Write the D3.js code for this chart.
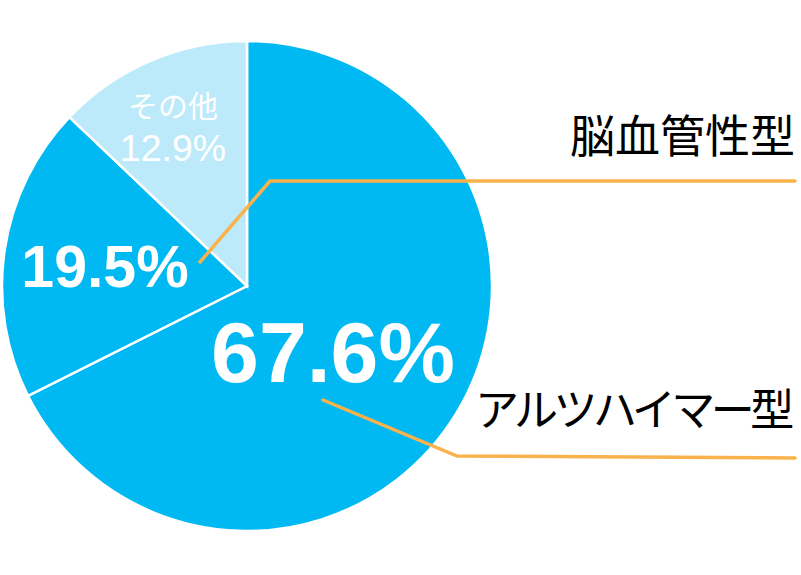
<!DOCTYPE html>
<html>
<head>
<meta charset="utf-8">
<title>pie</title>
<style>
body{margin:0;background:#fff;}
svg{display:block;}
</style>
</head>
<body>
<svg id="chart" width="801" height="575"></svg>
<script src="https://cdn.jsdelivr.net/npm/d3@7"></script>
<script>
// 認知症の内訳
var categories = ["アルツハイマー型", "脳血管性型", "その他"];
var values = [67.6, 19.5, 12.9];
var colors = ["#00b9f2", "#00b9f2", "#bdeafb"];

var svg = d3.select("#chart");
var cx = 247, cy = 286, r = 245;

var pie = d3.pie().sort(null).value(function(d){return d;});
var arc = d3.arc().innerRadius(0).outerRadius(r);
var arcs = pie(values);

var g = svg.append("g").attr("transform", "translate(" + cx + "," + cy + ")");
g.selectAll("path").data(arcs).enter().append("path")
  .attr("d", arc)
  .attr("fill", function(d, i){return colors[i];})
  .attr("stroke", "#fff")
  .attr("stroke-width", 2.5);

// leader lines
var lines = [
  [[323, 400], [457, 456], [795, 458]],
  [[200, 262], [270, 181], [795, 181]]
];
svg.selectAll("polyline").data(lines).enter().append("polyline")
  .attr("points", function(d){return d.map(function(p){return p.join(",");}).join(" ");})
  .attr("fill", "none")
  .attr("stroke", "#f9b24c")
  .attr("stroke-width", 3.5)
  .attr("stroke-linecap", "round");

// percentage labels
var fmt = function(v){return v.toFixed(1) + "%";};
svg.append("text").attr("x", 333).attr("y", 382).attr("text-anchor", "middle")
  .attr("font-family", "Liberation Sans, Arial, sans-serif").attr("font-weight", "bold")
  .attr("font-size", 86).attr("fill", "#fff").text(fmt(values[0]));
svg.append("text").attr("x", 105).attr("y", 287).attr("text-anchor", "middle")
  .attr("font-family", "Liberation Sans, Arial, sans-serif").attr("font-weight", "bold")
  .attr("font-size", 59).attr("fill", "#fff").text(fmt(values[1]));
svg.append("text").attr("x", 173).attr("y", 117).attr("text-anchor", "middle")
  .attr("font-family", "Noto Sans CJK JP, sans-serif")
  .attr("font-size", 30).attr("fill", "#fff").text(categories[2]);
svg.append("text").attr("x", 173).attr("y", 161).attr("text-anchor", "middle")
  .attr("font-family", "Liberation Sans, Arial, sans-serif")
  .attr("font-size", 37.5).attr("fill", "#fff").text(fmt(values[2]));

// category labels
svg.append("text").attr("x", 795).attr("y", 153).attr("text-anchor", "end")
  .attr("font-family", "Noto Sans CJK JP, sans-serif")
  .attr("font-size", 45).attr("fill", "#000").text(categories[1]);
svg.append("text").attr("x", 475).attr("y", 426)
  .attr("font-family", "Noto Sans CJK JP, sans-serif")
  .attr("font-size", 44).attr("fill", "#000")
  .attr("letter-spacing", -4.5)
  .text(categories[0]);
</script>
</body>
</html>
